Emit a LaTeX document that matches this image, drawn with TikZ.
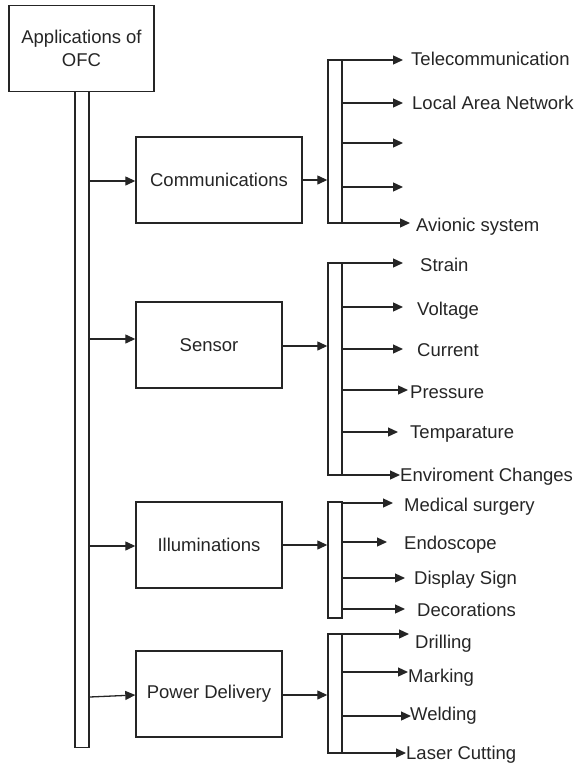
\documentclass[tikz,border=0pt]{standalone}
\usepackage{fontspec}
\setmainfont{Liberation Sans}
\usetikzlibrary{arrows.meta}
\definecolor{ink}{HTML}{252525}

% one leaf: label node, arrow end point, arrow from the bar
\newcommand\addleaf[7]{%
  \node[leaf] (#2) at (#3,#4) {#5};
  \coordinate (#2-in) at (#6,#7);
  \draw[arr] (#1.east |- #2-in) -- (#2-in);
}
% an arrow with no label
\newcommand\addstub[4]{%
  \coordinate (#2) at (#3,#4);
  \draw[arr] (#1.east |- #2) -- (#2);
}

\begin{document}
\begin{tikzpicture}[x=1pt,y=-1pt,
  every node/.style={text=ink},
  box/.style={draw=ink,line width=1.4pt,rectangle,inner sep=0pt,
    minimum width=#1,minimum height=86pt,font=\fontsize{18.5}{22.5}\selectfont},
  box/.default=146pt,
  bar/.style={draw=ink,line width=1.4pt,rectangle,inner sep=0pt,
    minimum width=14pt,minimum height=#1},
  leaf/.style={anchor=west,inner sep=0pt,text height=13.3pt,text depth=0pt,
    font=\fontsize{18.5}{22.5}\selectfont},
  arr/.style={draw=ink,line width=1.3pt,-{Triangle[length=10pt,width=9pt]}},
]
\useasboundingbox (0,0) rectangle (575,766);

% root and main trunk
\node[box=145pt,align=center] (root) at (81.5,48.5) {Applications of\\OFC};
\node[bar=656pt] (trunk) at (82,419.5) {};

% second level
\node[box=166pt] (comm) at (219,180) {Communications};
\node[box] (sens) at (209,345) {Sensor};
\node[box] (illu) at (209,545) {Illuminations};
\node[box] (powr) at (209,694) {Power Delivery};

\draw[arr] (trunk.east |- 0,181) -- (comm.west |- 0,181);
\draw[arr] (trunk.east |- 0,339) -- (sens.west |- 0,339);
\draw[arr] (trunk.east |- 0,546) -- (illu.west |- 0,546);
\draw[arr] (trunk.east |- 0,697) -- (powr.west |- 0,695);

% distribution bars
\node[bar=163pt] (cbar) at (335,141.5) {};
\node[bar=212pt] (sbar) at (335,369) {};
\node[bar=116pt] (ibar) at (335,560) {};
\node[bar=119pt] (pbar) at (335,693.5) {};

\draw[arr] (comm.east |- 0,180) -- (cbar.west |- 0,180);
\draw[arr] (sens.east |- 0,346) -- (sbar.west |- 0,346);
\draw[arr] (illu.east |- 0,545) -- (ibar.west |- 0,545);
\draw[arr] (powr.east |- 0,695) -- (pbar.west |- 0,695);

% communications
\addleaf{cbar}{tele}{411}{59}{Telecommunication}{403}{60}
\addleaf{cbar}{lan}{412}{103}{Local Area Network}{403}{103}
\addstub{cbar}{c3}{403}{143}
\addstub{cbar}{c4}{403}{187}
\addleaf{cbar}{avio}{416}{225}{Avionic system}{410}{223}

% sensor
\addleaf{sbar}{strain}{420}{265}{Strain}{403}{263}
\addleaf{sbar}{volt}{417}{309}{Voltage}{403}{307}
\addleaf{sbar}{curr}{417}{350}{Current}{403}{349}
\addleaf{sbar}{press}{410}{392}{Pressure}{408}{390}
\addleaf{sbar}{temp}{410}{432}{Temparature}{398}{432}
\addleaf{sbar}{envi}{400}{475}{Enviroment Changes}{400}{475}

% illuminations
\addleaf{ibar}{medi}{404}{505}{Medical surgery}{393}{503}
\addleaf{ibar}{endo}{404}{543}{Endoscope}{387}{542}
\addleaf{ibar}{disp}{414}{578}{Display Sign}{405}{578}
\addleaf{ibar}{deco}{417}{610}{Decorations}{405}{609}

% power delivery
\addleaf{pbar}{dril}{415}{642}{Drilling}{409}{634}
\addleaf{pbar}{mark}{408}{676}{Marking}{408}{672}
\addleaf{pbar}{weld}{410}{714}{Welding}{411}{716}
\addleaf{pbar}{lase}{406}{753}{Laser Cutting}{406}{753}
\end{tikzpicture}
\end{document}
